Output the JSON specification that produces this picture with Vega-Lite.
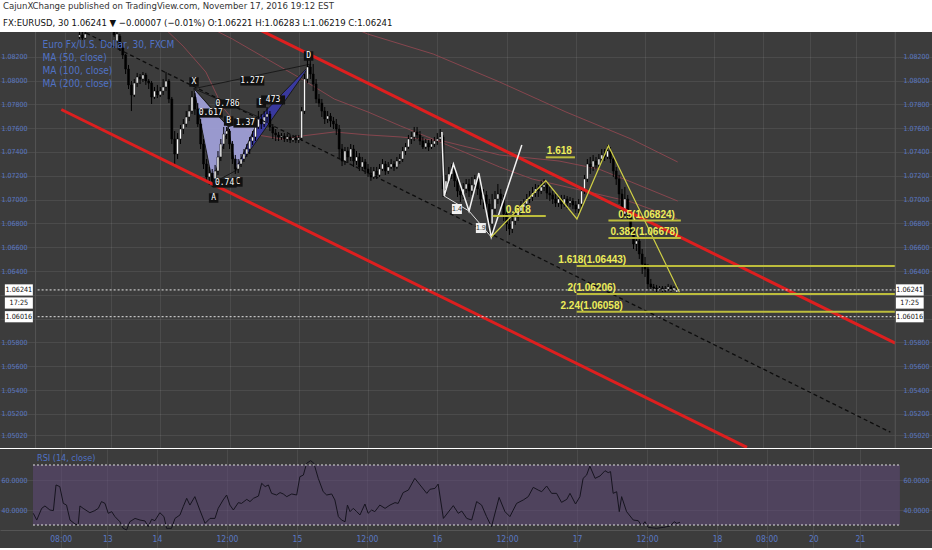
{
"$schema":"https://vega.github.io/schema/vega-lite/v6.json",
"padding":0,
"background":"#ffffff",
"spacing":0,
"title":{"text":"CajunXChange published on TradingView.com, November 17, 2016 19:12 EST","subtitle":"FX:EURUSD, 30  1.06241 ▼ −0.00007 (−0.01%)  O:1.06221  H:1.06283  L:1.06219  C:1.06241","anchor":"start","frame":"group","font":"Liberation Sans Narrow, DejaVu Sans Condensed, Liberation Sans, sans-serif","fontSize":9.5,"fontWeight":"normal","color":"#333333","subtitleFont":"Liberation Sans Narrow, DejaVu Sans Condensed, Liberation Sans, sans-serif","subtitleFontSize":9.5,"subtitleColor":"#111111","subtitlePadding":8,"offset":9,"dx":3,"dy":5},
"config":{
 "view":{"fill":"#3c3c3c","stroke":null},
 "axis":{"labelColor":"#5a78c4","labelFont":"Liberation Sans Narrow, DejaVu Sans Condensed, Liberation Sans, sans-serif","labelFontSize":7,"domain":false,"ticks":false,"gridColor":"#ffffff","gridOpacity":0.08,"title":null}
},
"datasets":{
 "candles":[
{"b":-28,"o":1.08366,"h":1.08433,"l":1.08349,"c":1.08383},
{"b":-27,"o":1.08383,"h":1.08408,"l":1.08341,"c":1.08357},
{"b":-26,"o":1.08357,"h":1.08416,"l":1.08349,"c":1.08391},
{"b":-16,"o":1.08433,"h":1.08450,"l":1.08366,"c":1.08383},
{"b":-15,"o":1.08332,"h":1.08408,"l":1.08315,"c":1.08391},
{"b":-14,"o":1.08374,"h":1.08391,"l":1.08248,"c":1.08282},
{"b":-13,"o":1.08282,"h":1.08315,"l":1.08181,"c":1.08215},
{"b":-12,"o":1.08215,"h":1.08223,"l":1.08055,"c":1.08097},
{"b":-11,"o":1.08097,"h":1.08131,"l":1.07929,"c":1.07963},
{"b":-10,"o":1.07963,"h":1.07996,"l":1.07744,"c":1.07879},
{"b":-9,"o":1.07879,"h":1.08013,"l":1.07862,"c":1.07979},
{"b":-8,"o":1.07979,"h":1.08064,"l":1.07946,"c":1.08030},
{"b":-7,"o":1.08030,"h":1.08055,"l":1.07971,"c":1.08013},
{"b":-6,"o":1.08013,"h":1.08072,"l":1.07988,"c":1.08047},
{"b":-5,"o":1.08047,"h":1.08064,"l":1.07963,"c":1.07996},
{"b":-4,"o":1.07996,"h":1.08013,"l":1.07929,"c":1.07979},
{"b":-3,"o":1.07979,"h":1.07996,"l":1.07803,"c":1.07862},
{"b":-2,"o":1.07862,"h":1.07946,"l":1.07845,"c":1.07912},
{"b":-1,"o":1.07912,"h":1.07963,"l":1.07853,"c":1.07879},
{"b":0,"o":1.07879,"h":1.07946,"l":1.07862,"c":1.07912},
{"b":1,"o":1.07912,"h":1.08013,"l":1.07879,"c":1.07946},
{"b":2,"o":1.07946,"h":1.08072,"l":1.07912,"c":1.07996},
{"b":3,"o":1.07996,"h":1.08013,"l":1.07811,"c":1.07845},
{"b":4,"o":1.07845,"h":1.07862,"l":1.07467,"c":1.07509},
{"b":5,"o":1.07509,"h":1.07576,"l":1.07282,"c":1.07383},
{"b":6,"o":1.07383,"h":1.07559,"l":1.07341,"c":1.07509},
{"b":7,"o":1.07509,"h":1.07627,"l":1.07467,"c":1.07593},
{"b":8,"o":1.07593,"h":1.07677,"l":1.07551,"c":1.07635},
{"b":9,"o":1.07635,"h":1.07744,"l":1.07610,"c":1.07694},
{"b":10,"o":1.07694,"h":1.07795,"l":1.07660,"c":1.07744},
{"b":11,"o":1.07744,"h":1.07912,"l":1.07719,"c":1.07862},
{"b":12,"o":1.07862,"h":1.07895,"l":1.07711,"c":1.07761},
{"b":13,"o":1.07761,"h":1.07811,"l":1.07610,"c":1.07635},
{"b":14,"o":1.07635,"h":1.07677,"l":1.07425,"c":1.07467},
{"b":15,"o":1.07467,"h":1.07509,"l":1.07257,"c":1.07299},
{"b":16,"o":1.07299,"h":1.07341,"l":1.07157,"c":1.07190},
{"b":17,"o":1.07190,"h":1.07274,"l":1.07123,"c":1.07223},
{"b":18,"o":1.07223,"h":1.07257,"l":1.07106,"c":1.07157},
{"b":19,"o":1.07157,"h":1.07291,"l":1.07131,"c":1.07240},
{"b":20,"o":1.07240,"h":1.07408,"l":1.07207,"c":1.07358},
{"b":21,"o":1.07358,"h":1.07509,"l":1.07324,"c":1.07467},
{"b":22,"o":1.07467,"h":1.07610,"l":1.07425,"c":1.07551},
{"b":23,"o":1.07551,"h":1.07610,"l":1.07509,"c":1.07576},
{"b":24,"o":1.07576,"h":1.07593,"l":1.07425,"c":1.07467},
{"b":25,"o":1.07467,"h":1.07492,"l":1.07299,"c":1.07341},
{"b":26,"o":1.07341,"h":1.07375,"l":1.07215,"c":1.07257},
{"b":27,"o":1.07257,"h":1.07341,"l":1.07223,"c":1.07299},
{"b":28,"o":1.07299,"h":1.07383,"l":1.07274,"c":1.07341},
{"b":29,"o":1.07341,"h":1.07425,"l":1.07316,"c":1.07383},
{"b":30,"o":1.07383,"h":1.07467,"l":1.07358,"c":1.07425},
{"b":31,"o":1.07425,"h":1.07526,"l":1.07383,"c":1.07492},
{"b":32,"o":1.07492,"h":1.07576,"l":1.07459,"c":1.07526},
{"b":33,"o":1.07526,"h":1.07677,"l":1.07492,"c":1.07610},
{"b":34,"o":1.07610,"h":1.07744,"l":1.07593,"c":1.07677},
{"b":35,"o":1.07677,"h":1.07719,"l":1.07593,"c":1.07635},
{"b":36,"o":1.07635,"h":1.07744,"l":1.07610,"c":1.07694},
{"b":37,"o":1.07694,"h":1.07778,"l":1.07643,"c":1.07719},
{"b":38,"o":1.07719,"h":1.07744,"l":1.07576,"c":1.07610},
{"b":39,"o":1.07610,"h":1.07635,"l":1.07509,"c":1.07559},
{"b":40,"o":1.07559,"h":1.07593,"l":1.07492,"c":1.07543},
{"b":41,"o":1.07543,"h":1.07568,"l":1.07492,"c":1.07526},
{"b":42,"o":1.07526,"h":1.07559,"l":1.07501,"c":1.07534},
{"b":43,"o":1.07534,"h":1.07559,"l":1.07484,"c":1.07509},
{"b":44,"o":1.07509,"h":1.07551,"l":1.07484,"c":1.07526},
{"b":45,"o":1.07526,"h":1.07543,"l":1.07475,"c":1.07501},
{"b":46,"o":1.07501,"h":1.07543,"l":1.07484,"c":1.07517},
{"b":47,"o":1.07517,"h":1.07543,"l":1.07475,"c":1.07501},
{"b":48,"o":1.07501,"h":1.07543,"l":1.07475,"c":1.07517},
{"b":49,"o":1.07517,"h":1.07778,"l":1.07492,"c":1.07744},
{"b":50,"o":1.07744,"h":1.08055,"l":1.07719,"c":1.08013},
{"b":51,"o":1.08013,"h":1.08215,"l":1.07979,"c":1.08114},
{"b":52,"o":1.08114,"h":1.08181,"l":1.08013,"c":1.08055},
{"b":53,"o":1.08055,"h":1.08139,"l":1.07912,"c":1.07971},
{"b":54,"o":1.07971,"h":1.08013,"l":1.07811,"c":1.07845},
{"b":55,"o":1.07845,"h":1.07887,"l":1.07778,"c":1.07811},
{"b":56,"o":1.07811,"h":1.07845,"l":1.07694,"c":1.07744},
{"b":57,"o":1.07744,"h":1.07778,"l":1.07635,"c":1.07677},
{"b":58,"o":1.07677,"h":1.07744,"l":1.07643,"c":1.07702},
{"b":59,"o":1.07702,"h":1.07727,"l":1.07610,"c":1.07660},
{"b":60,"o":1.07660,"h":1.07694,"l":1.07593,"c":1.07635},
{"b":61,"o":1.07635,"h":1.07677,"l":1.07543,"c":1.07593},
{"b":62,"o":1.07593,"h":1.07627,"l":1.07341,"c":1.07425},
{"b":63,"o":1.07425,"h":1.07467,"l":1.07282,"c":1.07324},
{"b":64,"o":1.07324,"h":1.07442,"l":1.07291,"c":1.07408},
{"b":65,"o":1.07408,"h":1.07442,"l":1.07307,"c":1.07358},
{"b":66,"o":1.07358,"h":1.07467,"l":1.07324,"c":1.07425},
{"b":67,"o":1.07425,"h":1.07459,"l":1.07274,"c":1.07324},
{"b":68,"o":1.07324,"h":1.07408,"l":1.07291,"c":1.07358},
{"b":69,"o":1.07358,"h":1.07391,"l":1.07240,"c":1.07274},
{"b":70,"o":1.07274,"h":1.07358,"l":1.07240,"c":1.07316},
{"b":71,"o":1.07316,"h":1.07341,"l":1.07215,"c":1.07257},
{"b":72,"o":1.07257,"h":1.07299,"l":1.07190,"c":1.07223},
{"b":73,"o":1.07223,"h":1.07274,"l":1.07157,"c":1.07190},
{"b":74,"o":1.07190,"h":1.07274,"l":1.07173,"c":1.07240},
{"b":75,"o":1.07240,"h":1.07274,"l":1.07173,"c":1.07207},
{"b":76,"o":1.07207,"h":1.07299,"l":1.07190,"c":1.07257},
{"b":77,"o":1.07257,"h":1.07341,"l":1.07240,"c":1.07299},
{"b":78,"o":1.07299,"h":1.07324,"l":1.07207,"c":1.07240},
{"b":79,"o":1.07240,"h":1.07316,"l":1.07215,"c":1.07274},
{"b":80,"o":1.07274,"h":1.07341,"l":1.07257,"c":1.07299},
{"b":81,"o":1.07299,"h":1.07324,"l":1.07240,"c":1.07274},
{"b":82,"o":1.07274,"h":1.07358,"l":1.07257,"c":1.07324},
{"b":83,"o":1.07324,"h":1.07383,"l":1.07299,"c":1.07341},
{"b":84,"o":1.07341,"h":1.07442,"l":1.07316,"c":1.07408},
{"b":85,"o":1.07408,"h":1.07475,"l":1.07375,"c":1.07442},
{"b":86,"o":1.07442,"h":1.07543,"l":1.07425,"c":1.07509},
{"b":87,"o":1.07509,"h":1.07568,"l":1.07467,"c":1.07526},
{"b":88,"o":1.07526,"h":1.07610,"l":1.07492,"c":1.07568},
{"b":89,"o":1.07568,"h":1.07610,"l":1.07509,"c":1.07543},
{"b":90,"o":1.07543,"h":1.07576,"l":1.07459,"c":1.07492},
{"b":91,"o":1.07492,"h":1.07526,"l":1.07425,"c":1.07442},
{"b":92,"o":1.07442,"h":1.07509,"l":1.07425,"c":1.07475},
{"b":93,"o":1.07475,"h":1.07501,"l":1.07408,"c":1.07442},
{"b":94,"o":1.07442,"h":1.07509,"l":1.07425,"c":1.07467},
{"b":95,"o":1.07467,"h":1.07526,"l":1.07442,"c":1.07492},
{"b":96,"o":1.07492,"h":1.07559,"l":1.07459,"c":1.07509},
{"b":97,"o":1.07509,"h":1.07593,"l":1.07484,"c":1.07526},
{"b":98,"o":1.07526,"h":1.07543,"l":1.07022,"c":1.07089},
{"b":99,"o":1.07089,"h":1.07207,"l":1.07047,"c":1.07157},
{"b":100,"o":1.07157,"h":1.07274,"l":1.07123,"c":1.07215},
{"b":101,"o":1.07215,"h":1.07299,"l":1.07173,"c":1.07257},
{"b":102,"o":1.07257,"h":1.07274,"l":1.07106,"c":1.07157},
{"b":103,"o":1.07157,"h":1.07190,"l":1.07022,"c":1.07072},
{"b":104,"o":1.07072,"h":1.07123,"l":1.06980,"c":1.07039},
{"b":105,"o":1.07039,"h":1.07139,"l":1.07005,"c":1.07089},
{"b":106,"o":1.07089,"h":1.07173,"l":1.07055,"c":1.07131},
{"b":107,"o":1.07131,"h":1.07173,"l":1.07022,"c":1.07072},
{"b":108,"o":1.07072,"h":1.07190,"l":1.07039,"c":1.07123},
{"b":109,"o":1.07123,"h":1.07207,"l":1.07089,"c":1.07173},
{"b":110,"o":1.07173,"h":1.07207,"l":1.07039,"c":1.07089},
{"b":111,"o":1.07089,"h":1.07123,"l":1.06955,"c":1.07005},
{"b":112,"o":1.07005,"h":1.07089,"l":1.06921,"c":1.07039},
{"b":113,"o":1.07039,"h":1.07072,"l":1.06904,"c":1.06963},
{"b":114,"o":1.06963,"h":1.07005,"l":1.06703,"c":1.06795},
{"b":115,"o":1.06795,"h":1.07047,"l":1.06686,"c":1.06921},
{"b":116,"o":1.06921,"h":1.07072,"l":1.06879,"c":1.07005},
{"b":117,"o":1.07005,"h":1.07131,"l":1.06963,"c":1.07047},
{"b":118,"o":1.07047,"h":1.07089,"l":1.06938,"c":1.07005},
{"b":119,"o":1.07005,"h":1.07039,"l":1.06820,"c":1.06879},
{"b":120,"o":1.06879,"h":1.06921,"l":1.06736,"c":1.06795},
{"b":121,"o":1.06795,"h":1.06837,"l":1.06703,"c":1.06753},
{"b":122,"o":1.06753,"h":1.06871,"l":1.06719,"c":1.06820},
{"b":123,"o":1.06820,"h":1.06904,"l":1.06787,"c":1.06854},
{"b":124,"o":1.06854,"h":1.06938,"l":1.06820,"c":1.06904},
{"b":125,"o":1.06904,"h":1.06988,"l":1.06871,"c":1.06938},
{"b":126,"o":1.06938,"h":1.07005,"l":1.06904,"c":1.06963},
{"b":127,"o":1.06963,"h":1.07047,"l":1.06938,"c":1.07005},
{"b":128,"o":1.07005,"h":1.07072,"l":1.06971,"c":1.07022},
{"b":129,"o":1.07022,"h":1.07106,"l":1.06988,"c":1.07055},
{"b":130,"o":1.07055,"h":1.07131,"l":1.07022,"c":1.07089},
{"b":131,"o":1.07089,"h":1.07123,"l":1.07022,"c":1.07072},
{"b":132,"o":1.07072,"h":1.07157,"l":1.07047,"c":1.07106},
{"b":133,"o":1.07106,"h":1.07173,"l":1.07072,"c":1.07123},
{"b":134,"o":1.07123,"h":1.07148,"l":1.07005,"c":1.07055},
{"b":135,"o":1.07055,"h":1.07106,"l":1.06988,"c":1.07039},
{"b":136,"o":1.07039,"h":1.07072,"l":1.06963,"c":1.07005},
{"b":137,"o":1.07005,"h":1.07047,"l":1.06938,"c":1.06971},
{"b":138,"o":1.06971,"h":1.07039,"l":1.06938,"c":1.07005},
{"b":139,"o":1.07005,"h":1.07039,"l":1.06921,"c":1.06963},
{"b":140,"o":1.06963,"h":1.07039,"l":1.06938,"c":1.07005},
{"b":141,"o":1.07005,"h":1.07030,"l":1.06921,"c":1.06971},
{"b":142,"o":1.06971,"h":1.07022,"l":1.06938,"c":1.06988},
{"b":143,"o":1.06988,"h":1.07013,"l":1.06921,"c":1.06955},
{"b":144,"o":1.06955,"h":1.06988,"l":1.06887,"c":1.06921},
{"b":145,"o":1.06921,"h":1.07005,"l":1.06887,"c":1.06963},
{"b":146,"o":1.06963,"h":1.07106,"l":1.06938,"c":1.07072},
{"b":147,"o":1.07072,"h":1.07207,"l":1.07047,"c":1.07173},
{"b":148,"o":1.07173,"h":1.07341,"l":1.07148,"c":1.07299},
{"b":149,"o":1.07299,"h":1.07358,"l":1.07215,"c":1.07274},
{"b":150,"o":1.07274,"h":1.07375,"l":1.07240,"c":1.07324},
{"b":151,"o":1.07324,"h":1.07358,"l":1.07257,"c":1.07291},
{"b":152,"o":1.07291,"h":1.07383,"l":1.07274,"c":1.07341},
{"b":153,"o":1.07341,"h":1.07425,"l":1.07324,"c":1.07375},
{"b":154,"o":1.07375,"h":1.07425,"l":1.07324,"c":1.07358},
{"b":155,"o":1.07358,"h":1.07459,"l":1.07341,"c":1.07408},
{"b":156,"o":1.07408,"h":1.07442,"l":1.07307,"c":1.07341},
{"b":157,"o":1.07341,"h":1.07375,"l":1.07190,"c":1.07240},
{"b":158,"o":1.07240,"h":1.07274,"l":1.07123,"c":1.07173},
{"b":159,"o":1.07173,"h":1.07207,"l":1.06963,"c":1.07047},
{"b":160,"o":1.07047,"h":1.07089,"l":1.06837,"c":1.06879},
{"b":161,"o":1.06879,"h":1.07106,"l":1.06854,"c":1.07005},
{"b":162,"o":1.07005,"h":1.07039,"l":1.06837,"c":1.06879},
{"b":163,"o":1.06879,"h":1.06904,"l":1.06703,"c":1.06736},
{"b":164,"o":1.06736,"h":1.06770,"l":1.06585,"c":1.06627},
{"b":165,"o":1.06627,"h":1.06686,"l":1.06568,"c":1.06652},
{"b":166,"o":1.06652,"h":1.06686,"l":1.06501,"c":1.06543},
{"b":167,"o":1.06543,"h":1.06585,"l":1.06375,"c":1.06459},
{"b":168,"o":1.06459,"h":1.06518,"l":1.06350,"c":1.06417},
{"b":169,"o":1.06417,"h":1.06459,"l":1.06249,"c":1.06291},
{"b":170,"o":1.06291,"h":1.06333,"l":1.06241,"c":1.06266},
{"b":171,"o":1.06266,"h":1.06291,"l":1.06232,"c":1.06257},
{"b":172,"o":1.06257,"h":1.06283,"l":1.06224,"c":1.06249},
{"b":173,"o":1.06249,"h":1.06274,"l":1.06232,"c":1.06257},
{"b":174,"o":1.06257,"h":1.06274,"l":1.06224,"c":1.06241},
{"b":175,"o":1.06241,"h":1.06274,"l":1.06224,"c":1.06249},
{"b":176,"o":1.06249,"h":1.06291,"l":1.06232,"c":1.06266},
{"b":177,"o":1.06266,"h":1.06283,"l":1.06224,"c":1.06241},
{"b":178,"o":1.06241,"h":1.06274,"l":1.06232,"c":1.06257},
{"b":179,"o":1.06221,"h":1.06283,"l":1.06219,"c":1.06241}
 ],
 "ma":[
{"ma":"MA 50","b":1.0,"p":1.08450},{"ma":"MA 50","b":7.9,"p":1.08290},{"ma":"MA 50","b":15.8,"p":1.08072},{"ma":"MA 50","b":21.6,"p":1.07778},{"ma":"MA 50","b":26.7,"p":1.07627},{"ma":"MA 50","b":33.6,"p":1.07543},{"ma":"MA 50","b":42.2,"p":1.07509},{"ma":"MA 50","b":49.0,"p":1.07534},{"ma":"MA 50","b":60.3,"p":1.07568},{"ma":"MA 50","b":72.0,"p":1.07543},{"ma":"MA 50","b":83.3,"p":1.07526},{"ma":"MA 50","b":98.0,"p":1.07492},{"ma":"MA 50","b":117.6,"p":1.07375},{"ma":"MA 50","b":138.2,"p":1.07324},{"ma":"MA 50","b":151.9,"p":1.07257},{"ma":"MA 50","b":163.2,"p":1.07148},{"ma":"MA 50","b":179.3,"p":1.06988},
{"ma":"MA 100","b":18.2,"p":1.08433},{"ma":"MA 100","b":25.0,"p":1.08349},{"ma":"MA 100","b":49.0,"p":1.08013},{"ma":"MA 100","b":60.3,"p":1.07845},{"ma":"MA 100","b":72.0,"p":1.07736},{"ma":"MA 100","b":83.3,"p":1.07618},{"ma":"MA 100","b":97.0,"p":1.07484},{"ma":"MA 100","b":117.6,"p":1.07274},{"ma":"MA 100","b":128.9,"p":1.07173},{"ma":"MA 100","b":148.4,"p":1.07064},{"ma":"MA 100","b":163.2,"p":1.06980},{"ma":"MA 100","b":179.3,"p":1.06837},
{"ma":"MA 200","b":67.9,"p":1.08433},{"ma":"MA 200","b":71.9,"p":1.08391},{"ma":"MA 200","b":94.6,"p":1.08223},{"ma":"MA 200","b":117.6,"p":1.07988},{"ma":"MA 200","b":140.6,"p":1.07736},{"ma":"MA 200","b":163.2,"p":1.07509},{"ma":"MA 200","b":179.3,"p":1.07316}
 ],
 "tri":[
{"tri":"T1","b":11.66,"y1":1.07932,"y2":1.07932},{"tri":"T1","b":18.17,"y1":1.07749,"y2":1.07139},{"tri":"T1","b":23.55,"y1":1.07612,"y2":1.07612},
{"tri":"T2","b":23.55,"y1":1.07612,"y2":1.07612},{"tri":"T2","b":26.16,"y1":1.07634,"y2":1.07243},{"tri":"T2","b":34.38,"y1":1.07691,"y2":1.07691},
{"tri":"T3","b":26.16,"y1":1.07243,"y2":1.07243},{"tri":"T3","b":34.38,"y1":1.07691,"y2":1.07526},{"tri":"T3","b":52.21,"y1":1.08139,"y2":1.08139}
 ],
 "edges":[
{"s":"XA","b":11.66,"p":1.07932},{"s":"XA","b":18.17,"p":1.07139},
{"s":"AB","b":18.17,"p":1.07139},{"s":"AB","b":23.55,"p":1.07612},
{"s":"XB","b":11.66,"p":1.07932},{"s":"XB","b":23.55,"p":1.07612},
{"s":"BC","b":23.55,"p":1.07612},{"s":"BC","b":26.16,"p":1.07243},
{"s":"CD1","b":26.16,"p":1.07243},{"s":"CD1","b":34.38,"p":1.07691},
{"s":"BD1","b":23.55,"p":1.07612},{"s":"BD1","b":34.38,"p":1.07691},
{"s":"CD","b":26.16,"p":1.07243},{"s":"CD","b":52.21,"p":1.08139},
{"s":"D1D","b":34.38,"p":1.07691},{"s":"D1D","b":52.21,"p":1.08139},
{"s":"XD","b":11.66,"p":1.07932},{"s":"XD","b":52.21,"p":1.08139},
{"s":"XD1","b":11.66,"p":1.07932},{"s":"XD1","b":34.38,"p":1.07691},
{"s":"AC","b":18.17,"p":1.07139},{"s":"AC","b":26.16,"p":1.07243}
 ],
 "rsi":[
{"b":-42.4,"r":37.8},{"b":-41.2,"r":33.3},{"b":-39.5,"r":41.1},{"b":-38.4,"r":42.7},{"b":-36.7,"r":40.0},{"b":-35.5,"r":39.6},{"b":-34.6,"r":56.7},{"b":-33.3,"r":55.6},{"b":-32.1,"r":44.4},{"b":-31.0,"r":43.3},{"b":-29.8,"r":33.3},{"b":-28.1,"r":30.7},{"b":-27.0,"r":30.0},{"b":-26.4,"r":42.7},{"b":-25.3,"r":41.1},{"b":-23.0,"r":38.2},{"b":-21.3,"r":39.6},{"b":-20.1,"r":41.1},{"b":-19.0,"r":45.6},{"b":-17.8,"r":44.4},{"b":-16.7,"r":37.8},{"b":-15.5,"r":38.9},{"b":-14.4,"r":35.6},{"b":-12.7,"r":32.2},{"b":-11.6,"r":27.8},{"b":-10.4,"r":26.7},{"b":-9.3,"r":32.2},{"b":-7.5,"r":34.4},{"b":-5.8,"r":33.3},{"b":-4.1,"r":32.7},{"b":-3.0,"r":28.9},{"b":-1.8,"r":33.8},{"b":-0.7,"r":32.9},{"b":1.0,"r":38.2},{"b":2.4,"r":35.6},{"b":3.3,"r":27.8},{"b":5.0,"r":27.8},{"b":6.2,"r":34.4},{"b":7.9,"r":36.7},{"b":9.0,"r":42.2},{"b":10.2,"r":47.8},{"b":11.3,"r":43.3},{"b":13.0,"r":48.9},{"b":14.7,"r":40.0},{"b":16.5,"r":31.1},{"b":18.2,"r":34.4},{"b":19.9,"r":34.4},{"b":21.0,"r":41.1},{"b":22.7,"r":46.7},{"b":23.9,"r":50.0},{"b":25.0,"r":43.3},{"b":26.2,"r":40.0},{"b":27.9,"r":44.9},{"b":29.0,"r":44.4},{"b":30.8,"r":47.1},{"b":31.9,"r":45.6},{"b":33.1,"r":47.8},{"b":34.8,"r":49.3},{"b":35.9,"r":57.8},{"b":37.1,"r":55.6},{"b":38.2,"r":56.7},{"b":39.3,"r":51.1},{"b":41.0,"r":50.0},{"b":42.2,"r":51.6},{"b":43.3,"r":50.7},{"b":44.5,"r":48.9},{"b":46.2,"r":50.7},{"b":47.9,"r":50.0},{"b":49.0,"r":62.2},{"b":50.2,"r":63.3},{"b":51.3,"r":71.1},{"b":52.7,"r":72.9},{"b":53.8,"r":71.1},{"b":55.3,"r":61.1},{"b":57.0,"r":52.2},{"b":58.2,"r":50.0},{"b":59.9,"r":50.7},{"b":61.0,"r":46.7},{"b":62.2,"r":35.6},{"b":63.3,"r":33.3},{"b":64.5,"r":32.2},{"b":65.3,"r":43.3},{"b":66.2,"r":38.9},{"b":67.3,"r":41.1},{"b":68.5,"r":38.9},{"b":69.6,"r":36.7},{"b":71.3,"r":44.0},{"b":72.4,"r":37.8},{"b":73.6,"r":40.0},{"b":74.7,"r":38.9},{"b":76.4,"r":43.3},{"b":78.2,"r":41.1},{"b":79.9,"r":43.3},{"b":81.6,"r":44.9},{"b":82.7,"r":44.4},{"b":84.4,"r":51.6},{"b":86.2,"r":53.3},{"b":88.4,"r":61.1},{"b":90.2,"r":56.7},{"b":92.5,"r":51.1},{"b":93.6,"r":53.8},{"b":95.3,"r":54.4},{"b":96.4,"r":57.3},{"b":98.2,"r":34.4},{"b":101.6,"r":42.9},{"b":103.3,"r":37.8},{"b":104.5,"r":39.3},{"b":106.2,"r":34.4},{"b":107.9,"r":33.3},{"b":109.6,"r":45.6},{"b":111.3,"r":43.3},{"b":113.0,"r":35.6},{"b":114.7,"r":28.9},{"b":117.3,"r":48.4},{"b":119.3,"r":38.9},{"b":121.0,"r":35.6},{"b":123.3,"r":44.4},{"b":125.6,"r":46.7},{"b":127.3,"r":48.9},{"b":129.0,"r":55.1},{"b":130.7,"r":53.3},{"b":131.9,"r":52.2},{"b":133.6,"r":56.0},{"b":135.3,"r":51.1},{"b":137.0,"r":51.1},{"b":138.7,"r":45.1},{"b":140.5,"r":47.1},{"b":141.6,"r":51.1},{"b":143.5,"r":44.0},{"b":145.0,"r":48.9},{"b":146.1,"r":61.1},{"b":147.3,"r":63.3},{"b":148.4,"r":69.3},{"b":150.2,"r":61.1},{"b":151.9,"r":62.7},{"b":153.6,"r":66.2},{"b":154.7,"r":64.9},{"b":155.5,"r":65.6},{"b":156.4,"r":51.1},{"b":157.6,"r":52.2},{"b":158.5,"r":38.9},{"b":159.3,"r":48.9},{"b":161.0,"r":38.9},{"b":163.3,"r":33.3},{"b":165.0,"r":32.9},{"b":166.2,"r":29.3},{"b":167.3,"r":32.2},{"b":168.4,"r":28.4},{"b":171.3,"r":27.8},{"b":173.6,"r":28.4},{"b":175.9,"r":29.3},{"b":177.3,"r":32.2},{"b":178.2,"r":31.1},{"b":179.3,"r":31.8}
 ]
},
"vconcat":[
{
 "width":932,"height":416,
 "resolve":{"axis":{"y":"independent"}},
 "layer":[
  {"data":{"name":"ma"},"mark":{"type":"line","color":"#8e4750","strokeWidth":1,"opacity":0.9,"clip":true},
   "encoding":{
    "x":{"field":"b","type":"quantitative","scale":{"domain":[-53.8,265.7],"nice":false,"zero":false},"axis":{"values":[-33,-17,0,24,48,72,96,120,144,168,192,209,225,241],"labels":false,"grid":true}},
    "y":{"field":"p","type":"quantitative","scale":{"domain":[1.04913,1.08408],"nice":false,"zero":false},"axis":{"orient":"left","offset":-29,"labelPadding":2,"grid":true,"values":[1.0502,1.052,1.054,1.056,1.058,1.06,1.062,1.064,1.066,1.068,1.07,1.072,1.074,1.076,1.078,1.08,1.082],"labelExpr":"datum.value > 1.0595 && datum.value < 1.0625 ? '' : format(datum.value, '.5f')"}},
    "detail":{"field":"ma"}}},
  {"data":{"name":"tri"},"mark":{"type":"area","opacity":0.9,"clip":true},
   "encoding":{"x":{"field":"b","type":"quantitative"},"y":{"field":"y1","type":"quantitative","axis":null},"y2":{"field":"y2"},
    "color":{"field":"tri","type":"nominal","scale":{"domain":["T1","T2","T3"],"range":["#a3a3de","#a3a3de","#3838aa"]},"legend":null}}},
  {"data":{"name":"edges"},"mark":{"type":"line","color":"#1a1a1a","strokeWidth":1,"clip":true},
   "encoding":{"x":{"field":"b","type":"quantitative"},"y":{"field":"p","type":"quantitative","axis":null},"detail":{"field":"s"}}},
  {"data":{"name":"candles"},"mark":{"type":"rule","color":"#000000","strokeWidth":1,"clip":true},
   "encoding":{"x":{"field":"b","type":"quantitative"},"y":{"field":"l","type":"quantitative","axis":null},"y2":{"field":"h"}}},
  {"data":{"name":"candles"},"mark":{"type":"bar","size":2,"stroke":"#000000","strokeWidth":0.5,"clip":true},
   "encoding":{"x":{"field":"b","type":"quantitative"},"y":{"field":"o","type":"quantitative","axis":null},"y2":{"field":"c"},
    "fill":{"condition":{"test":"datum.c >= datum.o","value":"#ffffff"},"value":"#000000"}}},
  {"data":{"values":[{"id":"up","b":30,"p":1.08479},{"id":"up","b":254.7,"p":1.05794},{"id":"lo","b":-34.3,"p":1.07757},{"id":"lo","b":203.3,"p":1.04918}]},
   "mark":{"type":"line","color":"#dd1f1f","strokeWidth":3,"clip":true},
   "encoding":{"x":{"field":"b","type":"quantitative"},"y":{"field":"p","type":"quantitative","axis":{"orient":"right","offset":-31,"labelPadding":2,"grid":false,"values":[1.0502,1.052,1.054,1.056,1.058,1.06,1.062,1.064,1.066,1.068,1.07,1.072,1.074,1.076,1.078,1.08,1.082],"labelExpr":"datum.value > 1.0595 && datum.value < 1.0625 ? '' : format(datum.value, '.5f')"}},"detail":{"field":"id"}}},
  {"data":{"values":[{"b":-30,"p":1.08451},{"b":253,"p":1.05046}]},
   "mark":{"type":"line","color":"#0d0d0d","strokeWidth":1.3,"strokeDash":[4,3],"clip":true},
   "encoding":{"x":{"field":"b","type":"quantitative"},"y":{"field":"p","type":"quantitative","axis":null}}},
  {"data":{"values":[{"b":97.6,"p":1.07568},{"b":98.4,"p":1.07030},{"b":101.6,"p":1.07299},{"b":107.0,"p":1.06904},{"b":110.4,"p":1.07223},{"b":114.7,"p":1.06686},{"b":125.3,"p":1.07459}]},
   "mark":{"type":"line","color":"#f2f2f2","strokeWidth":1.5,"clip":true},
   "encoding":{"x":{"field":"b","type":"quantitative"},"y":{"field":"p","type":"quantitative","axis":null}}},
  {"data":{"values":[{"b":98.4,"p":1.07030},{"b":107.0,"p":1.06904},{"b":114.7,"p":1.06686}]},
   "mark":{"type":"line","color":"#dddddd","strokeWidth":1,"clip":true},
   "encoding":{"x":{"field":"b","type":"quantitative"},"y":{"field":"p","type":"quantitative","axis":null}}},
  {"data":{"values":[{"b":114.7,"p":1.06686},{"b":133.6,"p":1.07159},{"b":144.4,"p":1.06837},{"b":155.3,"p":1.07453},{"b":179.9,"p":1.06221}]},
   "mark":{"type":"line","color":"#cfcf45","strokeWidth":1.2,"clip":true},
   "encoding":{"x":{"field":"b","type":"quantitative"},"y":{"field":"p","type":"quantitative","axis":null}}},
  {"data":{"values":[{"b":-42.5,"b2":254.7,"p":1.06241},{"b":-42.5,"b2":254.7,"p":1.06016}]},
   "mark":{"type":"rule","color":"#e6e6e6","strokeWidth":1,"strokeDash":[2,2]},
   "encoding":{"x":{"field":"b","type":"quantitative"},"x2":{"field":"b2"},"y":{"field":"p","type":"quantitative","axis":null}}},
  {"data":{"values":[
    {"t":"1.618","b":133.6,"b2":143.7,"tb":138.3,"p":1.07355},
    {"t":"0.618","b":115.2,"b2":133.6,"tb":124.1,"p":1.06862},
    {"t":"0.5(1.06824)","b":155.3,"b2":180.4,"tb":168.5,"p":1.06824},
    {"t":"0.382(1.06678)","b":155.3,"b2":180.4,"tb":167.8,"p":1.06678},
    {"t":"1.618(1.06443)","b":144.3,"b2":254.7,"tb":149.7,"p":1.06443},
    {"t":"2(1.06206)","b":144.3,"b2":254.7,"tb":149.5,"p":1.06206},
    {"t":"2.24(1.06058)","b":144.3,"b2":254.7,"tb":149.5,"p":1.06058}]},
   "layer":[
    {"mark":{"type":"rule","color":"#bdbd3c","strokeWidth":2},
     "encoding":{"x":{"field":"b","type":"quantitative"},"x2":{"field":"b2"},"y":{"field":"p","type":"quantitative","axis":null}}},
    {"mark":{"type":"text","color":"#ecec5a","font":"Liberation Sans, Arial, sans-serif","fontSize":10,"fontWeight":"bold","baseline":"middle","dy":-6},
     "encoding":{"x":{"field":"tb","type":"quantitative"},"y":{"field":"p","type":"quantitative","axis":null},"text":{"field":"t"}}}
   ]},
  {"data":{"values":[{"t":"X","b":11.7,"p":1.07988},{"t":"A","b":18.5,"p":1.07013},{"t":"B","b":23.7,"p":1.07660},{"t":"C","b":26.9,"p":1.07148},{"t":"D","b":35.0,"p":1.07811},{"t":"D","b":51.4,"p":1.08206}]},
   "layer":[
    {"mark":{"type":"point","shape":"square","filled":true,"color":"#111111","opacity":1,"size":90},
     "encoding":{"x":{"field":"b","type":"quantitative"},"y":{"field":"p","type":"quantitative","axis":null}}},
    {"mark":{"type":"text","color":"#ffffff","font":"DejaVu Sans Mono, monospace","fontSize":8,"baseline":"middle"},
     "encoding":{"x":{"field":"b","type":"quantitative"},"y":{"field":"p","type":"quantitative","axis":null},"text":{"field":"t"}}}
   ]},
  {"data":{"values":[{"t":"0.617","b":17.5,"p":1.07727},{"t":"0.786","b":23.3,"p":1.07803},{"t":"1.277","b":31.9,"p":1.07996},{"t":"1.37","b":29.5,"p":1.07643},{"t":"0.74","b":22.3,"p":1.07139},{"t":"473","b":39.1,"p":1.07837}]},
   "layer":[
    {"mark":{"type":"point","shape":"M-1,-0.38H1V0.38H-1Z","filled":true,"color":"#111111","opacity":1,"size":576},
     "encoding":{"x":{"field":"b","type":"quantitative"},"y":{"field":"p","type":"quantitative","axis":null}}},
    {"mark":{"type":"text","color":"#ffffff","font":"DejaVu Sans Mono, monospace","fontSize":8,"baseline":"middle"},
     "encoding":{"x":{"field":"b","type":"quantitative"},"y":{"field":"p","type":"quantitative","axis":null},"text":{"field":"t"}}}
   ]},
  {"data":{"values":[{"t":"1.4","b":102.8,"p":1.06921},{"t":"1.9","b":111.1,"p":1.06761}]},
   "layer":[
    {"mark":{"type":"point","shape":"square","filled":true,"color":"#f0f0f0","opacity":1,"size":100},
     "encoding":{"x":{"field":"b","type":"quantitative"},"y":{"field":"p","type":"quantitative","axis":null}}},
    {"mark":{"type":"text","color":"#333333","font":"Liberation Sans, sans-serif","fontSize":7,"baseline":"middle"},
     "encoding":{"x":{"field":"b","type":"quantitative"},"y":{"field":"p","type":"quantitative","axis":null},"text":{"field":"t"}}}
   ]},
  {"data":{"values":[{"t":"1.06241","p":1.06241},{"t":"17:25","p":1.06131},{"t":"1.06016","p":1.06016}]},
   "layer":[
    {"mark":{"type":"point","shape":"M-1,-0.4H1V0.4H-1Z","filled":true,"color":"#ffffff","opacity":1,"size":784},
     "encoding":{"x":{"datum":259.7,"type":"quantitative"},"y":{"field":"p","type":"quantitative","axis":null}}},
    {"mark":{"type":"point","shape":"M-1,-0.4H1V0.4H-1Z","filled":true,"color":"#ffffff","opacity":1,"size":784},
     "encoding":{"x":{"datum":-49.0,"type":"quantitative"},"y":{"field":"p","type":"quantitative","axis":null}}},
    {"mark":{"type":"text","color":"#111111","font":"Liberation Sans Narrow, DejaVu Sans Condensed, Liberation Sans, sans-serif","fontSize":7.2,"baseline":"middle"},
     "encoding":{"x":{"datum":259.7,"type":"quantitative"},"y":{"field":"p","type":"quantitative","axis":null},"text":{"field":"t"}}},
    {"mark":{"type":"text","color":"#111111","font":"Liberation Sans Narrow, DejaVu Sans Condensed, Liberation Sans, sans-serif","fontSize":7.2,"baseline":"middle"},
     "encoding":{"x":{"datum":-49.0,"type":"quantitative"},"y":{"field":"p","type":"quantitative","axis":null},"text":{"field":"t"}}}
   ]},
  {"data":{"values":[{"t":"Euro Fx/U.S. Dollar, 30, FXCM","p":1.08299},{"t":"MA (50, close)","p":1.08189},{"t":"MA (100, close)","p":1.08080},{"t":"MA (200, close)","p":1.07971}]},
   "mark":{"type":"text","align":"left","baseline":"middle","color":"#5072c4","font":"Liberation Sans Narrow, DejaVu Sans Condensed, Liberation Sans, sans-serif","fontSize":10},
   "encoding":{"x":{"datum":-40.8,"type":"quantitative"},"y":{"field":"p","type":"quantitative","axis":null},"text":{"field":"t"}}},
  {"data":{"values":[{"b":-43.2},{"b":254.7}]},
   "mark":{"type":"rule","color":"#555555","strokeWidth":1},
   "encoding":{"x":{"field":"b","type":"quantitative"}}}
 ]
},
{
 "width":932,"height":99,
 "resolve":{"axis":{"y":"independent"}},
 "layer":[
  {"data":{"values":[{}]},"mark":{"type":"rect","color":"#61497d","opacity":0.5},
   "encoding":{"x":{"datum":-42.5,"type":"quantitative"},"x2":{"datum":254.7},"y":{"datum":70,"type":"quantitative","axis":null},"y2":{"datum":30}}},
  {"data":{"name":"rsi"},"mark":{"type":"line","color":"#16141f","strokeWidth":1,"clip":true},
   "encoding":{
    "x":{"field":"b","type":"quantitative","scale":{"domain":[-53.8,265.7],"nice":false,"zero":false},"axis":{"orient":"bottom","offset":-18,"labelPadding":4,"labelFontSize":8.5,"domain":true,"domainColor":"#555555","grid":true,"values":[-33,-17,0,24,48,72,96,120,144,168,192,209,225,241],"labelExpr":"['08:00','13','14','12:00','15','12:00','16','12:00','17','12:00','18','08:00','20','21'][indexof([-33,-17,0,24,48,72,96,120,144,168,192,209,225,241], datum.value)]"}},
    "y":{"field":"r","type":"quantitative","scale":{"domain":[14.67,80.67],"nice":false,"zero":false},"axis":{"orient":"left","offset":-29,"labelPadding":2,"values":[40,60],"format":".4f","grid":true}}}},
  {"data":{"values":[{"v":70},{"v":30}]},"mark":{"type":"rule","color":"#e0e0e0","strokeWidth":1.2,"strokeDash":[2,2]},
   "encoding":{"x":{"datum":-42.5,"type":"quantitative"},"x2":{"datum":254.7},"y":{"field":"v","type":"quantitative","axis":{"orient":"right","offset":-31,"labelPadding":2,"values":[40,60],"format":".4f","grid":false}}}},
  {"data":{"values":[{"t":"RSI (14, close)","r":71.3}]},"mark":{"type":"text","align":"left","baseline":"bottom","color":"#5072c4","font":"Liberation Sans Narrow, DejaVu Sans Condensed, Liberation Sans, sans-serif","fontSize":9},
   "encoding":{"x":{"datum":-41.1,"type":"quantitative"},"y":{"field":"r","type":"quantitative","axis":null},"text":{"field":"t"}}}
 ]
}
]
}
